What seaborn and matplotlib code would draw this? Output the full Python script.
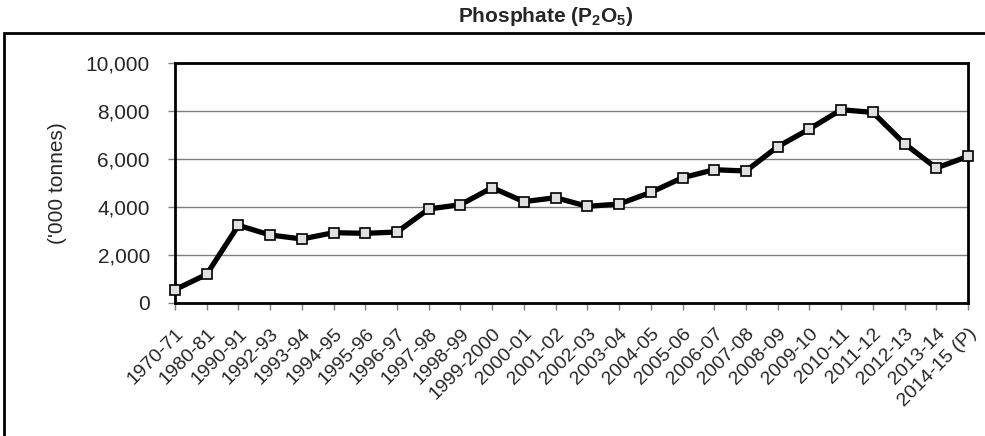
import numpy as np
import pandas as pd
import matplotlib
matplotlib.use("Agg")
import matplotlib.pyplot as plt
import matplotlib.transforms as mtransforms
from matplotlib.patches import Rectangle
from matplotlib.ticker import FuncFormatter, MultipleLocator
import seaborn as sns

years = ["1970-71", "1980-81", "1990-91", "1992-93", "1993-94", "1994-95", "1995-96",
         "1996-97", "1997-98", "1998-99", "1999-2000", "2000-01", "2001-02", "2002-03",
         "2003-04", "2004-05", "2005-06", "2006-07", "2007-08", "2008-09", "2009-10",
         "2010-11", "2011-12", "2012-13", "2013-14", "2014-15 (P)"]
phosphate = [556, 1194, 3236, 2833, 2667, 2930, 2903, 2958, 3917, 4097, 4806, 4222, 4389,
             4027, 4124, 4610, 5221, 5554, 5500, 6512, 7250, 8054, 7942, 6637, 5625, 6110]

df = pd.DataFrame({"year": years, "value": phosphate, "pos": np.arange(len(years))})

sns.set_theme(style="white")
plt.rcParams["font.family"] = ["Liberation Sans", "DejaVu Sans"]
plt.rcParams["mathtext.fontset"] = "custom"
plt.rcParams["mathtext.rm"] = "Liberation Sans"
plt.rcParams["mathtext.bf"] = "Liberation Sans:bold"

fig = plt.figure(figsize=(9.85, 4.36), dpi=100)
ax = fig.add_axes([175/985, 1 - 303/436, (968 - 175)/985, (303 - 63)/436])

ax.yaxis.grid(True, color="#808080", linewidth=1)
ax.set_axisbelow(True)

sns.lineplot(data=df, x="pos", y="value", ax=ax, color="black", linewidth=3.8,
             marker="s", markersize=7, markerfacecolor="#e0e0e0",
             markeredgecolor="black", markeredgewidth=1.2, clip_on=False, zorder=5)

ax.set_xlim(0, len(years) - 1)
ax.set_ylim(0, 10000)
ax.yaxis.set_major_locator(MultipleLocator(2000))
ax.yaxis.set_major_formatter(FuncFormatter(lambda v, p: f"{int(v):,}"))
ax.set_xticks(df["pos"])
ax.set_xticklabels(years, rotation=45, ha="right", rotation_mode="anchor", fontsize=14)
shift = mtransforms.ScaledTranslation(4/100, 0, fig.dpi_scale_trans)
for lbl in ax.get_xticklabels():
    lbl.set_transform(lbl.get_transform() + shift)
ax.tick_params(axis="y", labelsize=15, length=5, width=1, color="#808080",
               direction="out", left=True, pad=13)
ax.tick_params(axis="x", length=5, width=1, color="#808080", direction="out",
               bottom=True, pad=11)
ax.set_xlabel("")
ax.set_ylabel("('000 tonnes)", fontsize=15)
ax.yaxis.set_label_coords((67 - 175) / 793, 0.5)

for s in ax.spines.values():
    s.set_color("black")
    s.set_linewidth(2)

fig.text(546/985, 1 - 17/436, "Phosphate (P$_\\mathbf{2}$O$_\\mathbf{5}$)", ha="center",
         va="center", fontsize=15, fontweight="bold")

fig.patches.append(Rectangle((4/985, -0.05), 1.0, 1 - 33/436 + 0.05,
                             transform=fig.transFigure, fill=False,
                             edgecolor="black", linewidth=2, zorder=0))

fig.savefig("out.png", dpi=100)
